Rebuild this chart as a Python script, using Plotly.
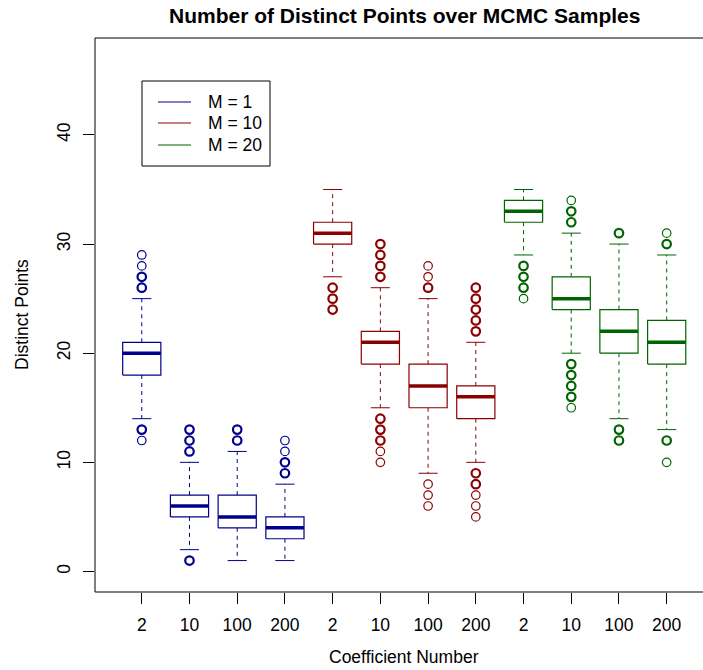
import numpy as np
import plotly.graph_objects as go

# ---------------- data ----------------
coef_labels = ["2", "10", "100", "200", "2", "10", "100", "200", "2", "10", "100", "200"]
groups = ["M = 1", "M = 10", "M = 20"]
group_of_box = [0, 0, 0, 0, 1, 1, 1, 1, 2, 2, 2, 2]

q1 = [18, 5, 4, 3, 30, 19, 15, 14, 32, 24, 20, 19]
median = [20, 6, 5, 4, 31, 21, 17, 16, 33, 25, 22, 21]
q3 = [21, 7, 7, 5, 32, 22, 19, 17, 34, 27, 24, 23]
lower_whisker = [14, 2, 1, 1, 27, 15, 9, 10, 29, 20, 14, 13]
upper_whisker = [25, 10, 11, 8, 35, 26, 25, 21, 35, 31, 30, 29]

outliers = [
    [26, 27, 28, 29, 13, 12],
    [11, 12, 13, 1],
    [12, 13],
    [9, 10, 11, 12],
    [26, 25, 24],
    [27, 28, 29, 30, 14, 13, 12, 11, 10],
    [26, 27, 28, 8, 7, 6],
    [22, 23, 24, 25, 26, 9, 8, 7, 6, 5],
    [28, 27, 26, 25],
    [32, 33, 34, 19, 18, 17, 16, 15],
    [31, 13, 12],
    [30, 31, 12, 10],
]
# 1 = many overlapping samples at that value (drawn heavier), 0 = few
outlier_heavy = [
    [1, 1, 0, 0, 1, 0],
    [1, 1, 1, 1],
    [1, 1],
    [1, 1, 0, 0],
    [1, 1, 1],
    [1, 1, 1, 1, 1, 1, 1, 0, 0],
    [1, 0, 0, 0, 0, 0],
    [1, 1, 1, 1, 1, 1, 1, 0, 0, 0],
    [1, 1, 1, 0],
    [1, 1, 0, 1, 1, 1, 1, 0],
    [1, 1, 1],
    [1, 0, 1, 0],
]

colors = ["#00008B", "#8B0000", "#006400"]

# ---------------- figure ----------------
W, H = 703, 670
L, R, T, B = 95, 0, 38, 78
font = "Liberation Sans, Arial, Helvetica, sans-serif"

fig = go.Figure()
hw = 0.4   # box half width
cw = 0.2   # staple half width

for i in range(12):
    x = i + 1
    c = colors[group_of_box[i]]
    # whiskers (dashed)
    fig.add_trace(go.Scatter(
        x=[x, x, None, x, x],
        y=[q3[i], upper_whisker[i], None, q1[i], lower_whisker[i]],
        mode="lines", line=dict(color=c, width=1, dash="4px,4px"),
        hoverinfo="skip", showlegend=False))
    # staples
    fig.add_trace(go.Scatter(
        x=[x - cw, x + cw, None, x - cw, x + cw],
        y=[upper_whisker[i], upper_whisker[i], None, lower_whisker[i], lower_whisker[i]],
        mode="lines", line=dict(color=c, width=1),
        hoverinfo="skip", showlegend=False))
    # box
    fig.add_trace(go.Scatter(
        x=[x - hw, x + hw, x + hw, x - hw, x - hw],
        y=[q1[i], q1[i], q3[i], q3[i], q1[i]],
        mode="lines", line=dict(color=c, width=1.2),
        fill="toself", fillcolor="white",
        hoverinfo="skip", showlegend=False))
    # median
    fig.add_trace(go.Scatter(
        x=[x - hw, x + hw], y=[median[i], median[i]],
        mode="lines", line=dict(color=c, width=3.5),
        hoverinfo="skip", showlegend=False))
    # outliers
    ov = np.array(outliers[i])
    hv = np.array(outlier_heavy[i])
    for flag, lw in ((0, 1.2), (1, 2.2)):
        sel = ov[hv == flag]
        if len(sel):
            fig.add_trace(go.Scatter(
                x=[x] * len(sel), y=sel, mode="markers",
                marker=dict(symbol="circle-open", size=8.5, color=c,
                            line=dict(color=c, width=lw)),
                hoverinfo="skip", showlegend=False))

pw = W - L - R
ph = H - T - B

def px(xp):
    return (xp - L) / pw

def py(yp):
    return (H - B - yp) / ph

shapes = [
    # plot frame (right edge falls outside the window as in the reference)
    dict(type="rect", xref="paper", yref="paper", x0=0, x1=px(713), y0=0, y1=1,
         line=dict(color="black", width=1), layer="above"),
    # legend frame
    dict(type="rect", xref="paper", yref="paper", x0=px(142), x1=px(270),
         y0=py(166), y1=py(81), line=dict(color="black", width=1),
         fillcolor="white", layer="above"),
]
annotations = []
leg_y = [102, 123, 145]
for k, g in enumerate(groups):
    shapes.append(dict(type="line", xref="paper", yref="paper",
                       x0=px(158), x1=px(191), y0=py(leg_y[k]), y1=py(leg_y[k]),
                       line=dict(color=colors[k], width=1), layer="above"))
    annotations.append(dict(text=g, xref="paper", yref="paper", x=px(206), y=py(leg_y[k]),
                            xanchor="left", yanchor="middle", showarrow=False,
                            font=dict(family=font, size=17.5, color="black")))

annotations += [
    dict(text="<b>Number of Distinct Points over MCMC Samples</b>", xref="paper", yref="paper",
         x=px(404), y=py(15), xanchor="center", yanchor="middle", showarrow=False,
         font=dict(family=font, size=21, color="black")),
    dict(text="Coefficient Number", xref="paper", yref="paper",
         x=px(404), y=py(657), xanchor="center", yanchor="middle", showarrow=False,
         font=dict(family=font, size=17.5, color="black")),
    dict(text="Distinct Points", xref="paper", yref="paper", textangle=-90,
         x=px(22), y=py(315), xanchor="center", yanchor="middle", showarrow=False,
         font=dict(family=font, size=17.5, color="black")),
]

fig.update_layout(
    width=W, height=H,
    margin=dict(l=L, r=R, t=T, b=B, pad=0),
    paper_bgcolor="white", plot_bgcolor="white",
    shapes=shapes, annotations=annotations,
    xaxis=dict(range=[0.02, 1 + (W - 142) / 47.7], tickmode="array",
               tickvals=list(range(1, 13)), ticktext=coef_labels,
               ticks="outside", ticklen=11, tickcolor="black", tickwidth=1,
               showgrid=False, zeroline=False, showline=False,
               tickfont=dict(family=font, size=17.5, color="black"),
               ticklabelstandoff=6),
    yaxis=dict(range=[-1.88, 48.88], tickmode="array", tickvals=[0, 10, 20, 30, 40],
               ticks="outside", ticklen=11, tickcolor="black", tickwidth=1,
               showgrid=False, zeroline=False, showline=False, tickangle=-90,
               tickfont=dict(family=font, size=17.5, color="black"),
               ticklabelstandoff=6),
)

fig.write_html("out.html")
